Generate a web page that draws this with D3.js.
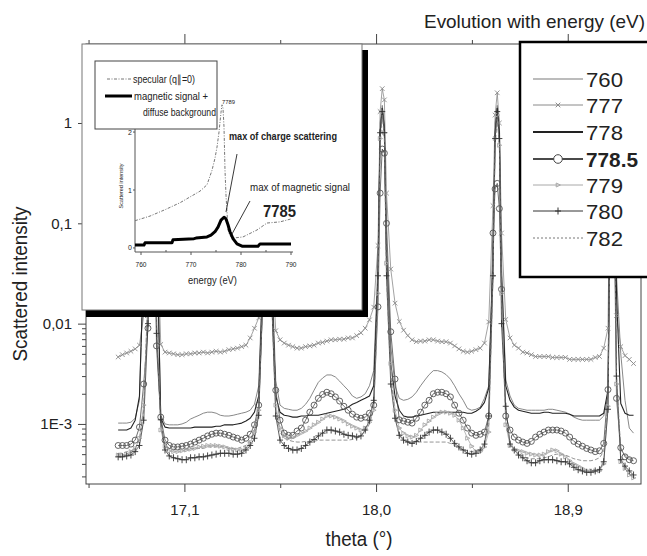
<!DOCTYPE html>
<html><head><meta charset="utf-8">
<script src="https://cdn.jsdelivr.net/npm/d3@7"></script>
<style>
html,body{margin:0;padding:0;background:#fff;}
svg{display:block;font-family:"Liberation Sans",Arial,sans-serif;}
</style></head><body>
<svg id="c" width="647" height="556"></svg>
<script>
// ---------- main chart data ----------
const theta = [
16.789,16.809,16.829,16.849,16.869,16.889,16.909,16.929,
16.939,16.949,16.959,
16.969,16.989,17.009,17.029,17.049,17.069,17.089,17.109,17.129,17.149,17.169,17.189,17.209,17.229,17.249,17.269,17.289,17.309,17.329,17.349,17.369,17.389,17.409,17.429,17.449,17.469,
17.479,17.489,17.499,
17.509,17.529,17.549,17.569,17.589,17.609,17.629,17.649,17.669,17.689,17.709,17.729,17.749,17.769,17.789,17.809,17.829,17.849,17.869,17.889,17.909,17.929,17.949,17.969,17.989,18.009,
18.019,18.029,18.039,
18.049,18.069,18.089,18.109,18.129,18.149,18.169,18.189,18.209,18.229,18.249,18.269,18.289,18.309,18.329,18.349,18.369,18.389,18.409,18.429,18.449,18.469,18.489,18.509,18.529,18.549,
18.559,18.569,18.579,
18.589,18.609,18.629,18.649,18.669,18.689,18.709,18.729,18.749,18.769,18.789,18.809,18.829,18.849,18.869,18.889,18.909,18.929,18.949,18.969,18.989,19.009,19.029,19.049,19.069,19.089,
19.099,19.109,19.119,
19.129,19.149,19.169,19.189,19.209];

const s778 = [
0.00087,0.00087,0.00087,0.00091,0.00109,0.0019,0.04,0.5,
1.2,1.5,1.1,
0.12,0.00114,0.00093,0.00091,0.00091,0.00091,0.00091,0.00091,0.00091,0.00093,0.00093,0.00093,0.00093,0.00093,0.00095,0.00095,0.00098,0.00098,0.00098,0.001,0.00102,0.00107,0.00114,0.00131,0.0019,0.03,
0.7,1.5,0.7,
0.03,0.0019,0.00131,0.00122,0.0012,0.00117,0.00117,0.0012,0.0012,0.00122,0.00122,0.00122,0.00125,0.00128,0.00131,0.00134,0.00137,0.0014,0.00147,0.00157,0.00164,0.00172,0.0018,0.0019,0.0024,0.03,
0.8,1.4,0.9,
0.05,0.004,0.0019,0.00137,0.0012,0.00117,0.00117,0.0012,0.00122,0.00125,0.00128,0.00131,0.00131,0.00131,0.00131,0.00131,0.00131,0.00131,0.00131,0.00128,0.00128,0.00134,0.00143,0.00164,0.00228,0.04,
0.8,1.4,0.8,
0.03,0.0024,0.00172,0.00147,0.00137,0.00134,0.00131,0.00128,0.00128,0.00128,0.00131,0.00131,0.00128,0.00128,0.00128,0.00128,0.00125,0.0012,0.0012,0.0012,0.0012,0.0012,0.0012,0.0012,0.00128,0.00217,
0.3,1.3,0.4,
0.02,0.0016,0.00128,0.00122,0.00122];

const s777 = [
0.00465,0.0049,0.0051,0.0053,0.0056,0.0061,0.012,0.2,
1.0,2.0,1.0,
0.15,0.0062,0.0052,0.0051,0.005,0.0049,0.0049,0.005,0.005,0.0051,0.0051,0.0052,0.0051,0.0052,0.0053,0.0052,0.0053,0.0055,0.0056,0.0057,0.0059,0.0061,0.0072,0.009,0.0114,0.03,
0.8,1.8,0.9,
0.05,0.0085,0.0069,0.0064,0.0061,0.0059,0.0057,0.0057,0.0059,0.006,0.0061,0.0064,0.0065,0.0067,0.0069,0.0069,0.007,0.007,0.0072,0.0072,0.0076,0.0081,0.009,0.0109,0.0146,0.06,
1.3,2.2,1.7,
0.2,0.035,0.016,0.0105,0.0086,0.0076,0.0069,0.0066,0.0067,0.0067,0.0069,0.0069,0.0067,0.0066,0.0066,0.0064,0.006,0.0056,0.0053,0.0052,0.0053,0.0055,0.0057,0.0064,0.0104,0.15,
1.2,2.0,1.0,
0.08,0.011,0.0072,0.0061,0.0057,0.0052,0.0051,0.0049,0.0047,0.0047,0.0047,0.0047,0.0046,0.0046,0.0046,0.0046,0.0044,0.0044,0.0044,0.0044,0.0044,0.0044,0.0046,0.0047,0.0057,0.009,
0.5,1.8,0.6,
0.012,0.0059,0.0048,0.0044,0.004];

const s760 = [
0.00102,0.00102,0.00102,0.00104,0.00114,0.00172,0.05,0.6,
1.3,1.6,1.2,
0.12,0.00122,0.001,0.00098,0.00098,0.00098,0.001,0.00104,0.00112,0.00117,0.00122,0.00128,0.00131,0.00131,0.00128,0.00122,0.0012,0.0012,0.00122,0.00125,0.00128,0.00131,0.00137,0.00157,0.0024,0.04,
0.8,1.6,0.8,
0.04,0.0027,0.00154,0.00143,0.0014,0.00137,0.00137,0.00143,0.00157,0.0018,0.00217,0.0026,0.00287,0.00308,0.00308,0.00294,0.00267,0.0024,0.00217,0.0019,0.0018,0.00186,0.002,0.0024,0.0034,0.04,
1.0,1.5,1.0,
0.06,0.006,0.0024,0.0018,0.00172,0.00176,0.00186,0.00207,0.0024,0.00274,0.0031,0.0034,0.0034,0.0033,0.0031,0.0028,0.0024,0.002,0.00172,0.00143,0.00137,0.0014,0.00147,0.0018,0.0024,0.05,
1.0,1.5,1.0,
0.04,0.00274,0.0019,0.00154,0.00143,0.0014,0.00137,0.00137,0.00137,0.00137,0.00137,0.0014,0.0014,0.00137,0.00134,0.00131,0.00125,0.00117,0.00112,0.00109,0.00109,0.00109,0.00109,0.00109,0.0012,0.0019,
0.3,1.4,0.5,
0.03,0.005,0.00172,0.00091,0.00081];

const s7785 = [
0.00061,0.00061,0.00061,0.00063,0.00069,0.00093,0.0025,0.009,
0.5,1.0,0.4,
0.006,0.00117,0.00069,0.00061,0.00059,0.00059,0.0006,0.00061,0.00063,0.00066,0.00069,0.00072,0.00076,0.00079,0.00081,0.00081,0.00079,0.00077,0.00074,0.00072,0.00069,0.00072,0.00079,0.00098,0.00154,0.02,
0.5,1.0,0.5,
0.02,0.00217,0.00109,0.00081,0.00077,0.00077,0.00085,0.00091,0.00109,0.00131,0.00154,0.0018,0.00197,0.00207,0.002,0.00186,0.00169,0.0015,0.00137,0.00125,0.00117,0.00114,0.00117,0.00128,0.00154,0.0147,
0.2,0.55,0.5,
0.1,0.0083,0.0028,0.0011,0.00107,0.00104,0.00102,0.00114,0.00131,0.00154,0.00172,0.002,0.00207,0.00207,0.002,0.00186,0.00154,0.00128,0.00109,0.00091,0.00081,0.00077,0.00079,0.00083,0.0012,0.08,
0.22,0.25,0.14,
0.022,0.0012,0.00087,0.00074,0.00069,0.00066,0.00064,0.00067,0.00074,0.00079,0.00083,0.00087,0.00087,0.00087,0.00085,0.00081,0.00074,0.00067,0.00063,0.0006,0.00057,0.00055,0.00053,0.00054,0.00064,0.0022,
0.1,0.5,0.1,
0.0018,0.00058,0.00047,0.00044,0.00043];

const s779 = [
0.00049,0.00049,0.0005,0.00053,0.00057,0.00072,0.00154,0.02,
0.6,1.2,0.5,
0.015,0.00087,0.0006,0.00054,0.00053,0.00053,0.00054,0.00055,0.00056,0.00057,0.00059,0.0006,0.00061,0.00061,0.00061,0.0006,0.00059,0.00057,0.00056,0.00055,0.00055,0.00057,0.00064,0.00083,0.00137,0.02,
0.6,1.2,0.6,
0.02,0.00154,0.00091,0.00076,0.00072,0.00074,0.00077,0.00081,0.00085,0.00091,0.00098,0.00104,0.00112,0.0012,0.0012,0.00117,0.00112,0.00107,0.001,0.00095,0.00091,0.00087,0.00091,0.00104,0.00137,0.02,
0.7,1.3,0.8,
0.04,0.004,0.00137,0.00091,0.00081,0.00076,0.00074,0.00077,0.00087,0.00098,0.00107,0.00117,0.00125,0.00131,0.00131,0.00128,0.00122,0.00109,0.00091,0.00072,0.0006,0.00053,0.00053,0.00059,0.00083,0.03,
0.7,1.2,0.6,
0.02,0.00098,0.00061,0.00056,0.00054,0.00053,0.00051,0.0005,0.00049,0.00049,0.0005,0.00053,0.00055,0.00054,0.0005,0.00047,0.00043,0.0004,0.00038,0.00036,0.00034,0.00034,0.00034,0.00034,0.0004,0.0015,
0.1,0.8,0.2,
0.0025,0.00042,0.00036,0.00031,0.00029];

const s780 = [
0.00047,0.00047,0.00048,0.00049,0.00053,0.00061,0.00109,0.01,
0.4,1.0,0.3,
0.008,0.0011,0.00055,0.00048,0.00046,0.00045,0.00044,0.00044,0.00046,0.00046,0.00047,0.00047,0.00048,0.00049,0.0005,0.00051,0.00051,0.00051,0.0005,0.0005,0.00051,0.00055,0.00061,0.00072,0.00122,0.02,
0.5,1.2,0.5,
0.02,0.0012,0.00069,0.00061,0.00057,0.00055,0.00055,0.00057,0.00061,0.00066,0.0007,0.00076,0.00081,0.00087,0.00087,0.00085,0.00083,0.00079,0.00077,0.00076,0.00074,0.00076,0.00087,0.00109,0.00172,0.03,
0.8,1.3,0.8,
0.03,0.0025,0.00114,0.00077,0.00069,0.00066,0.00064,0.00067,0.00072,0.00077,0.00083,0.00087,0.00087,0.00083,0.00079,0.00072,0.00064,0.00059,0.00055,0.00051,0.0005,0.00051,0.00055,0.00063,0.0012,0.03,
0.7,1.3,0.7,
0.01,0.0015,0.00063,0.00055,0.00049,0.00046,0.00043,0.00041,0.00041,0.00043,0.00044,0.00044,0.00044,0.00043,0.00042,0.00042,0.0004,0.00037,0.00035,0.00034,0.00033,0.00033,0.00034,0.00035,0.00042,0.0014,
0.1,0.9,0.2,
0.003,0.00044,0.00038,0.00034,0.00031];

const s782 = [
0.00051,0.00051,0.00053,0.00054,0.00057,0.00069,0.00137,0.02,
0.5,1.1,0.4,
0.01,0.00091,0.00063,0.00057,0.00056,0.00056,0.00056,0.00056,0.00057,0.00057,0.00057,0.00057,0.00059,0.00059,0.00059,0.00059,0.00059,0.00057,0.00057,0.00057,0.00059,0.00061,0.00069,0.00087,0.00137,0.02,
0.5,1.1,0.5,
0.02,0.00137,0.00083,0.00072,0.00069,0.00067,0.00066,0.00066,0.00067,0.00067,0.00067,0.00069,0.00069,0.00069,0.00069,0.00069,0.00069,0.00069,0.00069,0.0007,0.00072,0.00076,0.00083,0.001,0.00143,0.02,
0.6,1.2,0.7,
0.03,0.003,0.00122,0.00081,0.0007,0.00067,0.00066,0.00066,0.00066,0.00066,0.00066,0.00066,0.00066,0.00066,0.00066,0.00064,0.00061,0.00057,0.00055,0.00054,0.00053,0.00053,0.00055,0.00063,0.00098,0.03,
0.6,1.1,0.6,
0.015,0.00109,0.00066,0.00055,0.0005,0.00048,0.00046,0.00045,0.00045,0.00045,0.00046,0.00047,0.00049,0.0005,0.0005,0.00049,0.00047,0.00045,0.00044,0.00043,0.00043,0.00043,0.00044,0.00046,0.00053,0.0017,
0.1,0.8,0.2,
0.003,0.00055,0.00049,0.00046,0.00044];

const seriesNames = ["760","777","778","778.5","779","780","782"];
const seriesValues = [s760, s777, s778, s7785, s779, s780, s782];

const xMajorTicks = [17.1, 18.0, 18.9];
const xMajorLabels = ["17,1", "18,0", "18,9"];
const xMinorTicks = [16.65, 17.55, 18.45];
const yMajorTicks = [1e-3, 1e-2, 0.1, 1];
const yMajorLabels = ["1E-3", "0,01", "0,1", "1"];

// ---------- inset data ----------
const specEnergy = [758.8,761.8,764.8,767.8,770.4,771.8,773.2,774.2,774.8,775.2,775.6,776.0,776.2,776.4,776.6,776.8,777.0,777.2,777.4,777.8,778.4,780.4,783.2,785.2,787.8,790.0];
const specInt    = [0.47,0.55,0.66,0.78,0.91,0.98,1.09,1.34,1.55,1.74,2.0,2.34,2.47,2.41,2.09,1.34,0.91,0.62,0.31,0.21,0.17,0.19,0.31,0.43,0.45,0.5];
const magEnergy  = [758.8,760.6,760.8,766.2,766.4,770.6,771.0,773.2,774.0,774.8,775.4,776.0,776.6,777.0,777.4,777.8,778.4,779.2,780.2,783.4,783.8,790.0];
const magInt     = [0.05,0.05,0.09,0.09,0.14,0.16,0.17,0.19,0.22,0.28,0.36,0.48,0.53,0.50,0.40,0.28,0.16,0.07,0.03,0.03,0.07,0.07];
const insetXTicks = [760, 770, 780, 790];
const insetXLabels = ["760", "770", "780", "790"];
const insetXMinor = [765, 775, 785];
const insetYTicks = [0, 1, 2];
const insetYLabels = ["0", "1", "2"];

// ---------- styles ----------
const styles = {
  "760":   {stroke:"#7a7a7a", width:0.9, dash:null, marker:null},
  "777":   {stroke:"#8a8a8a", width:0.8, dash:null, marker:"x"},
  "778":   {stroke:"#222", width:1.1, dash:null, marker:null},
  "778.5": {stroke:"#4a4a4a", width:0.8, dash:null, marker:"o"},
  "779":   {stroke:"#a8a8a8", width:0.8, dash:null, marker:"t"},
  "780":   {stroke:"#333", width:0.8, dash:null, marker:"+"},
  "782":   {stroke:"#777", width:0.8, dash:"4,2", marker:null}
};
const markerPaths = {
  "x": "M-2.3,-2.3L2.3,2.3M-2.3,2.3L2.3,-2.3",
  "+": "M-3,0L3,0M0,-3.5L0,3.5",
  "t": "M-1.8,-2L2.4,0L-1.8,2Z"
};

const svg = d3.select("#c");
const pLeft = 86, pRight = 641, pTop = 44, pBottom = 484;

const x = d3.scaleLinear().domain([16.638, 19.244]).range([pLeft, pRight]);
const y = d3.scaleLog().domain([2.52e-4, 6.13]).range([pBottom, pTop]);

svg.append("defs").append("clipPath").attr("id","pc")
  .append("rect").attr("x",pLeft).attr("y",pTop).attr("width",pRight-pLeft).attr("height",pBottom-pTop);

svg.append("rect").attr("x",pLeft).attr("y",pTop).attr("width",pRight-pLeft).attr("height",pBottom-pTop)
  .attr("fill","none").attr("stroke","#444").attr("stroke-width",1);

function styleAxis(g){
  g.select(".domain").remove();
  g.selectAll("line").attr("stroke","#444");
  g.selectAll("text").attr("fill","#222").attr("font-family","Liberation Sans, Arial, sans-serif");
}
svg.append("g").attr("transform",`translate(0,${pBottom})`)
  .call(d3.axisBottom(x).tickValues(xMajorTicks).tickSize(8).tickPadding(12)
    .tickFormat((d,i)=>xMajorLabels[i]))
  .call(styleAxis).selectAll("text").attr("font-size",15);
svg.append("g").attr("transform",`translate(0,${pBottom})`)
  .call(d3.axisBottom(x).tickValues(xMinorTicks).tickSize(4).tickFormat(""))
  .call(styleAxis);
svg.append("g").attr("transform",`translate(0,${pTop})`)
  .call(d3.axisTop(x).tickValues(xMajorTicks).tickSize(10).tickFormat(""))
  .call(styleAxis);
svg.append("g").attr("transform",`translate(0,${pTop})`)
  .call(d3.axisTop(x).tickValues(xMinorTicks).tickSize(4).tickFormat(""))
  .call(styleAxis);

const yMinor = [];
for (let e = -4; e <= 0; e++) for (let m = 2; m <= 9; m++) {
  const v = m * Math.pow(10, e);
  if (v > 2.52e-4 && v < 6.13) yMinor.push(v);
}
svg.append("g").attr("transform",`translate(${pLeft},0)`)
  .call(d3.axisLeft(y).tickValues(yMajorTicks).tickSize(8).tickPadding(6)
    .tickFormat((d,i)=>yMajorLabels[i]))
  .call(styleAxis).selectAll("text").attr("font-size",15);
svg.append("g").attr("transform",`translate(${pLeft},0)`)
  .call(d3.axisLeft(y).tickValues(yMinor).tickSize(4).tickFormat(""))
  .call(styleAxis);

// data
const plot = svg.append("g").attr("clip-path","url(#pc)");
const line = d3.line().x((d,i)=>x(theta[i])).y(d=>y(d));
seriesNames.forEach((name, si) => {
  const st = styles[name];
  plot.append("path").datum(seriesValues[si]).attr("d", line)
    .attr("fill","none").attr("stroke",st.stroke).attr("stroke-width",st.width)
    .attr("stroke-dasharray", st.dash).attr("stroke-linejoin","round");
});
seriesNames.forEach((name, si) => {
  const st = styles[name];
  if (!st.marker) return;
  const g = plot.append("g");
  const vals = seriesValues[si];
  if (st.marker === "o") {
    g.selectAll("circle").data(vals).join("circle")
      .attr("cx",(d,i)=>x(theta[i])).attr("cy",d=>y(d)).attr("r",3)
      .attr("fill","none").attr("stroke","#555").attr("stroke-width",0.9);
  } else {
    g.selectAll("path").data(vals).join("path")
      .attr("transform",(d,i)=>`translate(${x(theta[i])},${y(d)})`)
      .attr("d", markerPaths[st.marker])
      .attr("fill","none").attr("stroke",st.stroke).attr("stroke-width",0.9);
  }
});

// axis titles
svg.append("text").attr("transform","translate(27,284) rotate(-90)")
  .attr("text-anchor","middle").attr("font-size",21).attr("fill","#222")
  .attr("textLength",155).attr("lengthAdjust","spacingAndGlyphs")
  .text("Scattered intensity");
svg.append("text").attr("x",359).attr("y",546)
  .attr("text-anchor","middle").attr("font-size",20).attr("fill","#222")
  .attr("textLength",67).attr("lengthAdjust","spacingAndGlyphs")
  .text("theta (°)");
svg.append("text").attr("x",424).attr("y",28)
  .attr("font-size",19).attr("fill","#222")
  .attr("textLength",221).attr("lengthAdjust","spacingAndGlyphs")
  .text("Evolution with energy (eV)");

// ---------- inset ----------
const inset = svg.append("g");
inset.append("rect").attr("x",86).attr("y",50).attr("width",282).attr("height",267).attr("fill","#000");
inset.append("rect").attr("x",82).attr("y",44).attr("width",280).attr("height",266)
  .attr("fill","#fff").attr("stroke","#777").attr("stroke-width",1);

const ix = d3.scaleLinear().domain([758.8, 790.4]).range([135, 293]);
const iy = d3.scaleLinear().domain([-0.07, 2.07]).range([252, 128]);

inset.append("line").attr("x1",135).attr("x2",135).attr("y1",iy(2.07)).attr("y2",iy(-0.07)).attr("stroke","#555");
inset.append("line").attr("x1",ix(758.8)).attr("x2",ix(790.4)).attr("y1",252).attr("y2",252).attr("stroke","#555");
insetXTicks.forEach((t,i)=>{
  inset.append("line").attr("x1",ix(t)).attr("x2",ix(t)).attr("y1",252).attr("y2",255).attr("stroke","#555");
  inset.append("text").attr("x",ix(t)).attr("y",267).attr("text-anchor","middle")
    .attr("font-size",8).attr("fill","#222").attr("textLength",11).attr("lengthAdjust","spacingAndGlyphs")
    .text(insetXLabels[i]);
});
insetXMinor.forEach(t=>{
  inset.append("line").attr("x1",ix(t)).attr("x2",ix(t)).attr("y1",250).attr("y2",252).attr("stroke","#555");
});
insetYTicks.forEach((t,i)=>{
  inset.append("line").attr("x1",133).attr("x2",135).attr("y1",iy(t)).attr("y2",iy(t)).attr("stroke","#555");
  inset.append("text").attr("x",132).attr("y",iy(t)+2.5).attr("text-anchor","end")
    .attr("font-size",7).attr("fill","#222").text(insetYLabels[i]);
});

const iline = d3.line();
inset.append("path")
  .attr("d", iline(specEnergy.map((e,i)=>[ix(e), iy(specInt[i])])))
  .attr("fill","none").attr("stroke","#777").attr("stroke-width",1)
  .attr("stroke-dasharray","3,1.5,1,1.5");
inset.append("path")
  .attr("d", iline(magEnergy.map((e,i)=>[ix(e), iy(magInt[i])])))
  .attr("fill","none").attr("stroke","#000").attr("stroke-width",3).attr("stroke-linejoin","round");

function itext(txt, xx, yy, size, len, opts={}) {
  const t = inset.append("text").attr("x",xx).attr("y",yy).attr("font-size",size)
    .attr("fill","#222").text(txt);
  if (len) t.attr("textLength",len).attr("lengthAdjust","spacingAndGlyphs");
  if (opts.bold) t.attr("font-weight","bold");
  if (opts.anchor) t.attr("text-anchor",opts.anchor);
  if (opts.transform) t.attr("transform",opts.transform).attr("x",null).attr("y",null);
  return t;
}
itext("energy (eV)", 188, 284, 11, 49);
itext("Scattered intensity", 0, 0, 5.5, 45, {anchor:"middle", transform:"translate(123,186) rotate(-90)"});

// inset legend
inset.append("rect").attr("x",95).attr("y",61).attr("width",122).attr("height",68)
  .attr("fill","#fff").attr("stroke","#444").attr("stroke-width",1);
inset.append("line").attr("x1",107).attr("x2",132).attr("y1",79).attr("y2",79)
  .attr("stroke","#777").attr("stroke-width",1).attr("stroke-dasharray","3,1.5,1,1.5");
itext("specular (q∥=0)", 133, 83, 11, 62);
inset.append("line").attr("x1",105).attr("x2",132).attr("y1",96).attr("y2",96)
  .attr("stroke","#000").attr("stroke-width",3);
itext("magnetic signal +", 134, 100, 11, 74);
itext("diffuse background", 143, 116, 11, 73);

// annotations
itext("7789", 222, 104, 6, 13);
itext("max of charge scattering", 229, 140, 11, 108, {bold:true});
inset.append("line").attr("x1",237).attr("y1",154).attr("x2",226).attr("y2",212).attr("stroke","#222").attr("stroke-width",0.9);
itext("max of magnetic signal", 250, 191, 11, 100);
inset.append("line").attr("x1",250).attr("y1",201).attr("x2",232).attr("y2",234).attr("stroke","#222").attr("stroke-width",0.9);
itext("7785", 263, 217, 17, 33, {bold:true});

// ---------- legend ----------
const leg = svg.append("g");
leg.append("rect").attr("x",520).attr("y",42).attr("width",140).attr("height",235)
  .attr("fill","#fff").attr("stroke","#000").attr("stroke-width",2.5);
const legLineY = [79, 105, 132, 159, 185, 211, 238];
seriesNames.forEach((name, i) => {
  const st = styles[name];
  const ly = legLineY[i];
  const sw = name === "778" || name === "778.5" ? 2.2 : (st.width + 0.2);
  leg.append("line").attr("x1",533).attr("x2",583).attr("y1",ly).attr("y2",ly)
    .attr("stroke",st.stroke).attr("stroke-width",sw)
    .attr("stroke-dasharray", name === "782" ? "2,2" : st.dash);
  if (st.marker === "o") {
    leg.append("circle").attr("cx",558).attr("cy",ly).attr("r",4.3)
      .attr("fill","#fff").attr("stroke","#444").attr("stroke-width",1);
  } else if (st.marker) {
    leg.append("path").attr("transform",`translate(558,${ly})`).attr("d",markerPaths[st.marker])
      .attr("fill","none").attr("stroke",st.stroke).attr("stroke-width",1);
  }
  const t = leg.append("text").attr("x",586).attr("y",ly+8).attr("font-size",21)
    .attr("fill","#222").text(name);
  if (name === "778.5") t.attr("font-weight","bold").attr("textLength",52).attr("lengthAdjust","spacingAndGlyphs");
  else t.attr("textLength",37).attr("lengthAdjust","spacingAndGlyphs");
});
</script>
</body></html>
